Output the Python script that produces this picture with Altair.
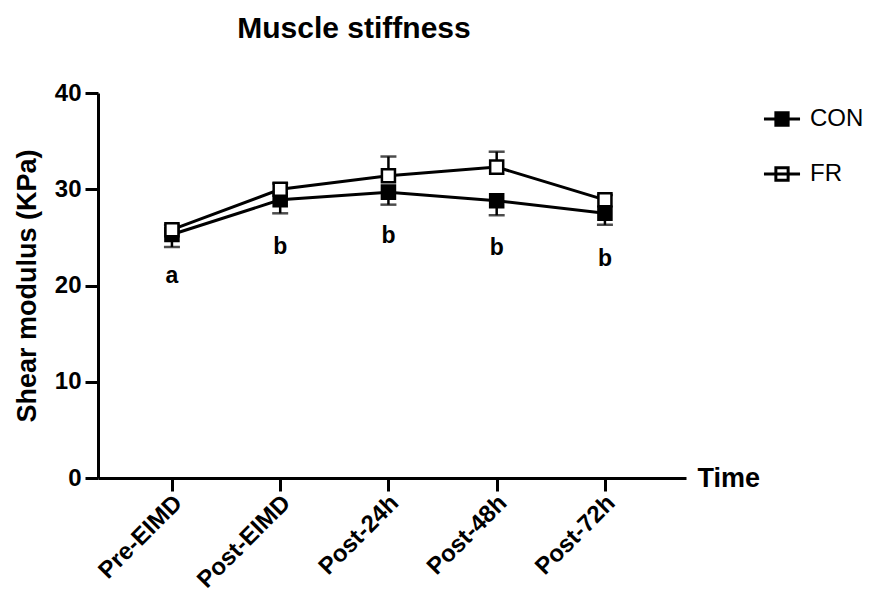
import altair as alt
import pandas as pd

times = ["Pre-EIMD", "Post-EIMD", "Post-24h", "Post-48h", "Post-72h"]
groups = ["CON", "FR"]
con_mean = [25.3, 28.9, 29.7, 28.8, 27.5]
con_sem = [1.3, 1.4, 1.3, 1.5, 1.2]
fr_mean = [25.8, 30.0, 31.4, 32.3, 28.9]
fr_sem = [0.5, 0.6, 2.0, 1.6, 0.5]
letters = ["a", "b", "b", "b", "b"]
letter_y = [21.0, 24.0, 25.1, 23.9, 22.8]

rows = []
for i, t in enumerate(times):
    rows.append({"time": t, "group": "CON", "mean": con_mean[i], "end": con_mean[i] - con_sem[i]})
    rows.append({"time": t, "group": "FR", "mean": fr_mean[i], "end": fr_mean[i] + fr_sem[i]})
df = pd.DataFrame(rows)
df_letters = pd.DataFrame({"time": times, "letter": letters, "y": letter_y})

FONT = "Liberation Sans"
W, H = 588, 385

x_enc = alt.X("time:N", sort=times,
              scale=alt.Scale(type="point", padding=0.716, align=0.477),
              axis=alt.Axis(title="Time", labelAngle=-45, labelAlign="right", labelBaseline="middle",
                            labelFontSize=24, labelFontWeight="bold", labelFont=FONT, labelColor="black",
                            labelPadding=8, labelOffset=6, tickSize=13, tickWidth=3, tickColor="black",
                            domainWidth=3, domainColor="black",
                            titleX=W + 11, titleY=0, titleAlign="left", titleBaseline="middle",
                            titleAngle=0, titleFontSize=27, titleFontWeight="bold", titleFont=FONT,
                            titleColor="black"))
y_scale = alt.Scale(domain=[0, 40], nice=False)
y_enc = alt.Y("mean:Q", scale=y_scale,
              axis=alt.Axis(title="Shear modulus (KPa)", values=[0, 10, 20, 30, 40],
                            labelFontSize=24, labelFontWeight="bold", labelFont=FONT, labelColor="black",
                            labelPadding=4, tickSize=13, tickWidth=3, tickColor="black",
                            domainWidth=3, domainColor="black", grid=False,
                            titleFontSize=27, titleFontWeight="bold", titleFont=FONT, titleColor="black",
                            titlePadding=13))

base = alt.Chart(df)

err = base.mark_rule(color="black", strokeWidth=2.5).encode(
    x=x_enc, y=alt.Y("mean:Q", scale=y_scale), y2="end:Q")
caps = base.mark_tick(color="black", size=16, thickness=2.5).encode(
    x=x_enc, y=alt.Y("end:Q", scale=y_scale))
lines = base.mark_line(color="black", strokeWidth=3).encode(
    x=x_enc, y=y_enc, detail="group:N")

legend_path = "M-1,0L1,0M-0.34,-0.34L0.34,-0.34L0.34,0.34L-0.34,0.34Z"
points = base.mark_point(shape="square", size=170, stroke="black", strokeWidth=2.5,
                         opacity=1, filled=False).encode(
    x=x_enc, y=y_enc,
    fill=alt.Fill("group:N", sort=groups,
                  scale=alt.Scale(domain=groups, range=["black", "white"]),
                  legend=alt.Legend(title=None, orient="none", legendX=664, legendY=6,
                                    symbolType=legend_path, symbolSize=1300,
                                    symbolStrokeColor="black", symbolStrokeWidth=3,
                                    labelFontSize=24, labelFont=FONT, labelColor="black",
                                    labelOffset=8, rowPadding=22)))

text = alt.Chart(df_letters).mark_text(fontSize=23, fontWeight="bold", font=FONT,
                                       color="black", baseline="middle").encode(
    x=x_enc, y=alt.Y("y:Q", scale=y_scale), text="letter:N")

chart = alt.layer(err, caps, lines, points, text).properties(
    width=W, height=H,
    title=alt.TitleParams("Muscle stiffness", fontSize=30, fontWeight="bold", font=FONT,
                          color="black", anchor="middle", dx=-38, offset=37),
    padding={"left": 98, "top": 93, "right": 202, "bottom": 132},
    autosize=alt.AutoSizeParams(type="none"),
).configure_view(stroke=None)

chart.save("out.html", embed_options={"renderer": "svg", "actions": False})
